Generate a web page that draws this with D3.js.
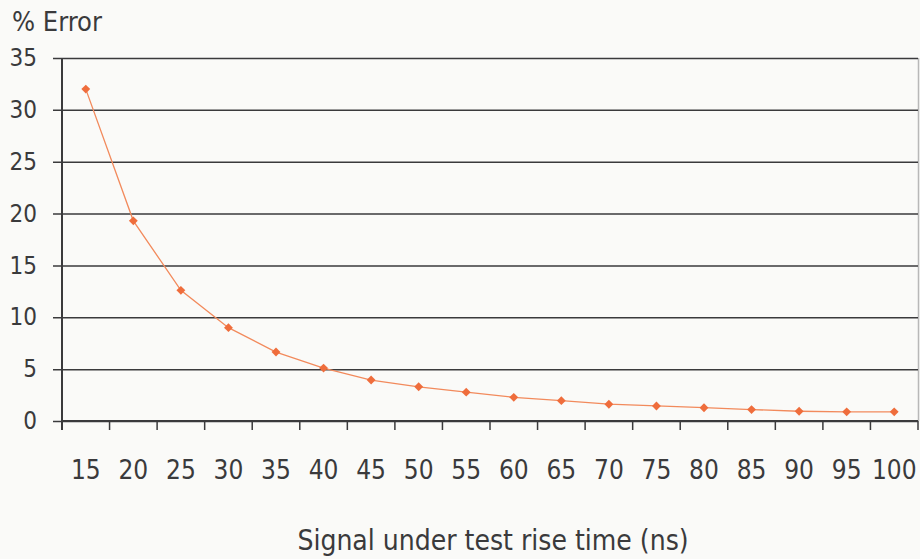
<!DOCTYPE html>
<html>
<head>
<meta charset="utf-8">
<script src="https://cdn.jsdelivr.net/npm/d3@7"></script>
<style>
  body { margin: 0; background: #fafaf8; }
  svg { display: block; }
  text { font-family: "DejaVu Sans Condensed", "Liberation Sans Narrow", sans-serif; fill: #3a3a3c; }
</style>
</head>
<body>
<svg width="920" height="559"></svg>
<script>
// rise time categories (ns) and % error values
const riseTimes = [15, 20, 25, 30, 35, 40, 45, 50, 55, 60, 65, 70, 75, 80, 85, 90, 95, 100];
const errorPct = [32.0, 19.3, 12.6, 9.0, 6.65, 5.1, 3.95, 3.3, 2.78, 2.28, 1.96, 1.62, 1.45, 1.28, 1.1, 0.94, 0.88, 0.88];
const yTicks = [0, 5, 10, 15, 20, 25, 30, 35];

const svg = d3.select("svg");
const plotLeft = 62, plotRight = 918, plotTop = 58, plotBottom = 421;

const x = d3.scaleBand()
  .domain(riseTimes)
  .range([plotLeft, plotRight]);

const y = d3.scaleLinear()
  .domain([0, 35])
  .range([plotBottom, plotTop]);

// plot border on the right
svg.append("line")
  .attr("x1", plotRight + 0.5).attr("x2", plotRight + 0.5)
  .attr("y1", plotTop).attr("y2", plotBottom)
  .attr("stroke", "#b8b8b8").attr("stroke-width", 1.5);

// gridlines + y axis
const yAxis = svg.append("g")
  .attr("transform", `translate(${plotLeft},0)`)
  .call(d3.axisLeft(y).tickValues(yTicks).tickSize(9).tickPadding(16));
yAxis.select(".domain").remove();
yAxis.selectAll(".tick line")
  .attr("x2", plotRight - plotLeft).attr("x1", -9)
  .attr("stroke", "#3a3a3c").attr("stroke-width", 1.5);
yAxis.selectAll(".tick text")
  .style("font-size", "24px").attr("fill", "#3a3a3c");

svg.append("line")
  .attr("x1", plotLeft).attr("x2", plotLeft)
  .attr("y1", plotTop).attr("y2", plotBottom + 9)
  .attr("stroke", "#3a3a3c").attr("stroke-width", 2);

// x axis, ticks between categories
const xAxis = svg.append("g")
  .attr("transform", `translate(0,${plotBottom})`);
xAxis.append("line")
  .attr("x1", plotLeft).attr("x2", plotRight)
  .attr("stroke", "#3a3a3c").attr("stroke-width", 2);
xAxis.selectAll(".sep")
  .data(riseTimes)
  .enter().append("line")
  .attr("class", "sep")
  .attr("x1", d => x(d) + x.bandwidth())
  .attr("x2", d => x(d) + x.bandwidth())
  .attr("y1", 0).attr("y2", 9)
  .attr("stroke", "#3a3a3c").attr("stroke-width", 1.5);
xAxis.selectAll(".lbl")
  .data(riseTimes)
  .enter().append("text")
  .attr("class", "lbl")
  .attr("x", d => x(d) + x.bandwidth() / 2)
  .attr("y", 58)
  .attr("text-anchor", "middle")
  .style("font-size", "26px")
  .text(d => d);

// series line
const line = d3.line()
  .x((d, i) => x(riseTimes[i]) + x.bandwidth() / 2)
  .y(d => y(d));

svg.append("path")
  .datum(errorPct)
  .attr("d", line)
  .attr("fill", "none")
  .attr("stroke", "#f28a5c")
  .attr("stroke-width", 1.3);

svg.selectAll(".pt")
  .data(errorPct)
  .enter().append("path")
  .attr("class", "pt")
  .attr("d", d3.symbol(d3.symbolDiamond2, 50))
  .attr("transform", (d, i) => `translate(${x(riseTimes[i]) + x.bandwidth() / 2},${y(d)})`)
  .attr("fill", "#ef6d3c");

// titles
svg.append("text")
  .attr("x", 12).attr("y", 31)
  .style("font-size", "27px")
  .text("% Error");

svg.append("text")
  .attr("x", 493).attr("y", 550)
  .attr("text-anchor", "middle")
  .style("font-size", "28px")
  .text("Signal under test rise time (ns)");
</script>
</body>
</html>
